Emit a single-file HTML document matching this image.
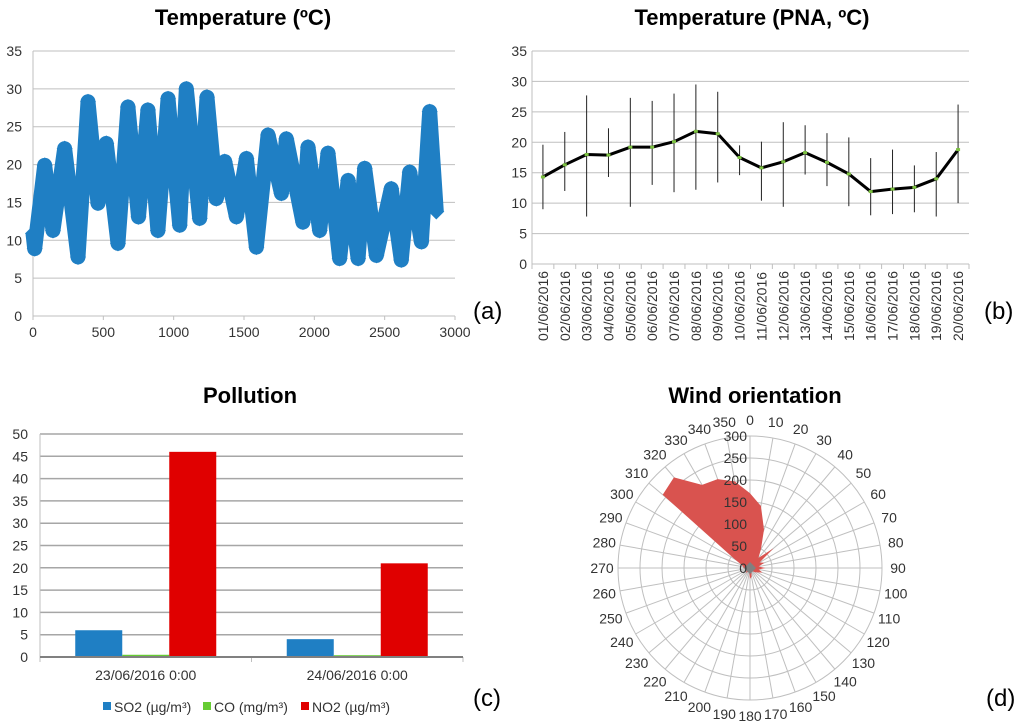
<!DOCTYPE html>
<html><head><meta charset="utf-8">
<style>
html,body{margin:0;padding:0;background:#fff;}
svg{display:block;font-family:"Liberation Sans",sans-serif;}
.t{font-weight:bold;font-size:22px;fill:#000;text-anchor:middle;}
.tk{font-size:14px;fill:#333;}
.g{stroke:#bfbfbf;stroke-width:1;}
.lab{font-size:24px;fill:#000;}
</style></head>
<body>
<svg id="s" width="1024" height="727" viewBox="0 0 1024 727">
<text class="t" x="243" y="25">Temperature (ºC)</text>
<text class="t" x="752" y="25">Temperature (PNA, ºC)</text>
<text class="t" x="250" y="403">Pollution</text>
<text class="t" x="755" y="403">Wind orientation</text>
<text class="lab" x="473" y="319">(a)</text>
<text class="lab" x="984" y="319">(b)</text>
<text class="lab" x="473" y="706">(c)</text>
<text class="lab" x="986" y="706">(d)</text>
<g id="ga"></g>
<g id="gb"></g>
<g id="gc"></g>
<g id="gd"></g>
</svg>
<script>
// ---- chart a data ----
const aIdx=[0,12,83,142,225,320,391,462,521,604,675,750,817,888,960,1043,1090,1185,1237,1303,1363,1446,1517,1588,1671,1766,1801,1919,1955,2038,2097,2180,2240,2311,2358,2441,2547,2618,2678,2761,2820,2867];
const aTemp=[10.9,8.9,19.9,11.3,22.1,7.8,28.3,14.9,22.8,9.6,27.6,13.1,27.2,11.3,28.7,12.0,30.0,12.9,28.9,15.5,20.4,13.1,20.8,9.1,23.9,16.2,23.4,12.4,22.3,11.3,21.5,7.6,17.9,7.6,19.5,8.0,16.8,7.4,19.0,9.8,27.0,13.8];
const aYTicks=[0,5,10,15,20,25,30,35];
const aXTicks=[0,500,1000,1500,2000,2500,3000];
// ---- chart b data ----
const bDates=["01/06/2016","02/06/2016","03/06/2016","04/06/2016","05/06/2016","06/06/2016","07/06/2016","08/06/2016","09/06/2016","10/06/2016","11/06/2016","12/06/2016","13/06/2016","14/06/2016","15/06/2016","16/06/2016","17/06/2016","18/06/2016","19/06/2016","20/06/2016"];
const bMean=[14.3,16.3,18,17.9,19.2,19.2,20.1,21.8,21.4,17.5,15.8,16.8,18.3,16.7,14.8,11.9,12.3,12.6,14,18.8];
const bHigh=[19.6,21.7,27.7,22.3,27.3,26.8,28,29.5,28.3,19.5,20.1,23.3,22.8,21.5,20.8,17.4,18.8,16.2,18.4,26.2];
const bLow=[9,12,7.8,14.3,9.4,13,11.8,12.2,13.4,14.6,10.4,9.4,14.7,12.8,9.5,8,8.2,8.5,7.8,10];
const bYTicks=[0,5,10,15,20,25,30,35];
// ---- chart c data ----
const cCats=["23/06/2016 0:00","24/06/2016 0:00"];
const cSO2=[6,4];
const cCO=[0.5,0.4];
const cNO2=[46,21];
const cYTicks=[0,5,10,15,20,25,30,35,40,45,50];
// ---- chart d data ----
const dDirs=[0,10,20,30,40,50,60,70,80,90,100,110,120,130,140,150,160,170,180,190,200,210,220,230,240,250,260,270,280,290,300,310,320,330,340,350];
const dVals=[170,143,93,50,30,70,25,35,20,35,20,30,20,15,10,10,10,20,25,10,10,10,15,10,10,10,10,15,15,20,40,259,269,218,215,200];
const dRings=[0,50,100,150,200,250,300];

const NS="http://www.w3.org/2000/svg";
function mk(p,tag,at,txt){const e=document.createElementNS(NS,tag);for(const k in at)e.setAttribute(k,at[k]);if(txt!==undefined)e.textContent=txt;p.appendChild(e);return e;}

// chart a
(function(){
const g=document.getElementById('ga');
const X=v=>33+v/3000*422, Y=v=>316-v/35*265;
aYTicks.forEach(t=>{const l=mk(g,'line',{x1:33,x2:455,y1:Y(t),y2:Y(t),class:'g'});


const tx=mk(g,'text',{x:22,y:Y(t)+5,class:'tk','text-anchor':'end'},t);

});
mk(g,'line',{x1:33,x2:33,y1:51,y2:316,class:'g'});
aXTicks.forEach(t=>{mk(g,'line',{x1:X(t),x2:X(t),y1:316,y2:320,class:'g'});
const tx=mk(g,'text',{x:X(t),y:337,class:'tk','text-anchor':'middle'},t);

});
const pts=aIdx.map((v,i)=>X(v)+','+Y(aTemp[i])).join(' ');
const pl=mk(g,'polyline',{points:pts,fill:'none',stroke:'#1f7fc4','stroke-width':15,'stroke-linejoin':'round'});


aIdx.forEach((v,i)=>{const x=X(v),y=Y(aTemp[i]);
const m=mk(g,'polygon',{points:`${x},${y-8} ${x+8},${y} ${x},${y+8} ${x-8},${y}`,fill:'#1f7fc4'});

});
})();

// chart b
(function(){
const g=document.getElementById('gb');
const L=532,R=969,n=bDates.length,w=(R-L)/n;
const X=i=>L+w*(i+0.5), Y=v=>264-v/35*213;
bYTicks.forEach(t=>{const l=mk(g,'line',{x1:L,x2:R,y1:Y(t),y2:Y(t),class:'g'});


const tx=mk(g,'text',{x:527,y:Y(t)+5,class:'tk','text-anchor':'end'},t);

});
mk(g,'line',{x1:L,x2:L,y1:51,y2:264,class:'g'});
for(let i=0;i<=n;i++)mk(g,'line',{x1:L+w*i,x2:L+w*i,y1:264,y2:269,class:'g'});
bDates.forEach((d,i)=>{const tx=mk(g,'text',{x:0,y:0,class:'tk',transform:`translate(${X(i)+5},${341}) rotate(-90)`,'font-size':'13.5px'},d);


const e=mk(g,'line',{x1:X(i),x2:X(i),y1:Y(bHigh[i]),y2:Y(bLow[i]),stroke:'#222','stroke-width':1});

});
const pl=mk(g,'polyline',{points:bMean.map((v,i)=>X(i)+','+Y(v)).join(' '),fill:'none',stroke:'#000','stroke-width':3,'stroke-linejoin':'round'});


bMean.forEach((v,i)=>{const m=mk(g,'rect',{x:X(i)-2,y:Y(v)-1.5,width:4,height:3,fill:'#7dc242'});

});
})();

// chart c
(function(){
const g=document.getElementById('gc');
const L=40,R=463,Y=v=>657-v/50*223,cw=(R-L)/cCats.length,bw=47;
cYTicks.forEach(t=>{const l=mk(g,'line',{x1:L,x2:R,y1:Y(t),y2:Y(t),stroke:'#a6a6a6','stroke-width':1.5});


const tx=mk(g,'text',{x:28,y:Y(t)+5,class:'tk','text-anchor':'end'},t);

});
mk(g,'line',{x1:L,x2:L,y1:434,y2:660,class:'g'});
for(let i=0;i<=cCats.length;i++)mk(g,'line',{x1:L+cw*i,x2:L+cw*i,y1:657,y2:662,class:'g'});
const series=[[cSO2,'#1f7fc4','so2'],[cCO,'#66cc33','co'],[cNO2,'#e00000','no2']];
cCats.forEach((c,i)=>{const x0=L+cw*i+(cw-3*bw)/2;
series.forEach((s,j)=>{const r=mk(g,'rect',{x:x0+j*bw,y:Y(s[0][i]),width:bw,height:Y(0)-Y(s[0][i]),fill:s[1]});

});
const tx=mk(g,'text',{x:L+cw*(i+0.5),y:680,class:'tk','text-anchor':'middle','font-size':'14px'},c);

});
mk(g,'line',{x1:L,x2:R,y1:657,y2:657,stroke:'#808080','stroke-width':2});
const leg=[['SO2 (µg/m³)','#1f7fc4',103],['CO (mg/m³)','#66cc33',203],['NO2 (µg/m³)','#e00000',301]];
leg.forEach(l=>{const r=mk(g,'rect',{x:l[2],y:702,width:8,height:8,fill:l[1]});


const t=mk(g,'text',{x:l[2]+11,y:712,class:'tk','font-size':'14px'},l[0]);

});
})();

// chart d
(function(){
const g=document.getElementById('gd');
const cx=750,cy=568,Rmax=132,maxV=300,r=v=>v/maxV*Rmax;
dRings.forEach(v=>{if(v>0){const c=mk(g,'circle',{cx:cx,cy:cy,r:r(v),fill:'none',stroke:'#bfbfbf'});

}});
dDirs.forEach(a=>{const t=a*Math.PI/180;
mk(g,'line',{x1:cx,y1:cy,x2:cx+Rmax*Math.sin(t),y2:cy-Rmax*Math.cos(t),stroke:'#bfbfbf'});
const lx=cx+(Rmax+16)*Math.sin(t),ly=cy-(Rmax+16)*Math.cos(t)+5;
const tx=mk(g,'text',{x:lx,y:ly,class:'tk','text-anchor':'middle','font-size':'14px'},a);

});
const pts=dDirs.map((a,i)=>{const t=a*Math.PI/180;return (cx+r(dVals[i])*Math.sin(t))+','+(cy-r(dVals[i])*Math.cos(t));}).join(' ');
const p=mk(g,'polygon',{points:pts,fill:'#d9534f'});


mk(g,'polygon',{points:`${cx},${cy-6} ${cx+6},${cy} ${cx},${cy+6} ${cx-6},${cy}`,fill:'#808080'});
dRings.forEach(v=>{const tx=mk(g,'text',{x:cx-3,y:cy-r(v)+5,class:'tk','text-anchor':'end','font-size':'14px'},v);

});
})();
</script>
</body></html>
